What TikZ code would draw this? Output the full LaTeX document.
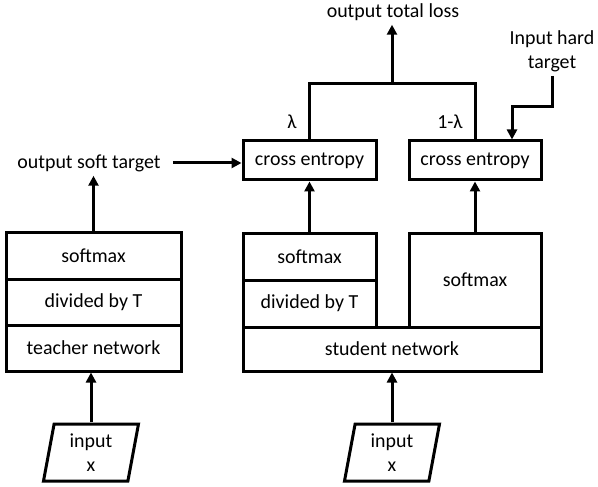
\documentclass[tikz,border=0pt]{standalone}
\usepackage{fontspec}
\setmainfont{Carlito}
\usetikzlibrary{arrows.meta,shapes.geometric}
\newlength{\du}
\setlength{\du}{1bp}
\tikzset{
  blk/.style={draw, line width=3\du, inner sep=0pt, anchor=center},
  lbl/.style={inner sep=4\du, anchor=center},
  wire/.style={line width=3\du},
  flow/.style={wire, -{Triangle[length=10bp,width=10bp]}},
  inbox/.style={draw, line width=3\du, trapezium, trapezium left angle=75,
    trapezium right angle=105, trapezium stretches body, align=center,
    inner sep=1pt, minimum width=95\du, minimum height=57\du}
}

\begin{document}
\begin{tikzpicture}[x=1\du,y=-1\du,font=\fontsize{20}{24}\selectfont]
\useasboundingbox (0,0) rectangle (598,487);
% teacher
\node[blk, minimum width=175\du, minimum height=47\du] (tsoft) at (93.5,255.5) {softmax};
\node[blk, minimum width=175\du, minimum height=46\du] (tdiv) at (93.5,302) {divided by T};
\node[blk, minimum width=175\du, minimum height=46\du] (tnet) at (93.5,348) {teacher network};
\node[inbox] (tin) at (91,452.5) {input\\x};
\node[lbl] (soft) at (89,163) {output soft target};
% student
\node[blk, minimum width=133\du, minimum height=47\du] (ssoft) at (309.5,256.5) {softmax};
\node[blk, minimum width=133\du, minimum height=47\du] (sdiv) at (309.5,303.5) {divided by T};
\node[blk, minimum width=132\du, minimum height=94\du] (shard) at (475,280) {softmax};
\node[blk, minimum width=298\du, minimum height=44\du] (snet) at (392,349) {student network};
\node[inbox] (sin) at (392,452.5) {input\\x};
% losses
\node[blk, minimum width=133\du, minimum height=39\du] (ce1) at (309.5,160.5) {cross entropy};
\node[blk, minimum width=132\du, minimum height=39\du] (ce2) at (475,160.5) {cross entropy};
\node[lbl] (lam) at (292,122) {λ};
\node[lbl] (lamc) at (450,122) {1-λ};
\node[lbl] (loss) at (393,12) {output total loss};
\node[lbl, align=center] (hard) at (552,51) {Input hard\\target};
\coordinate (join) at (392,84);
\coordinate (bend) at (512,107);

\draw[flow] (tin.north) -- (tin.north |- tnet.south);
\draw[flow] (sin.north) -- (sin.north |- snet.south);
\draw[flow] (tsoft.north) -- (tsoft.north |- soft.south);
\draw[flow] ([xshift=8\du]soft.east) -- (soft.east -| ce1.west);
\draw[flow] (ssoft.north) -- (ce1.south);
\draw[flow] (shard.north) -- (ce2.south);
\draw[wire] (ce1.north) |- (join) -| (ce2.north);
\draw[flow] (join) -- (join |- loss.south);
\draw[flow] (hard.south) |- (bend) -- (bend |- ce2.north);
\end{tikzpicture}
\end{document}
